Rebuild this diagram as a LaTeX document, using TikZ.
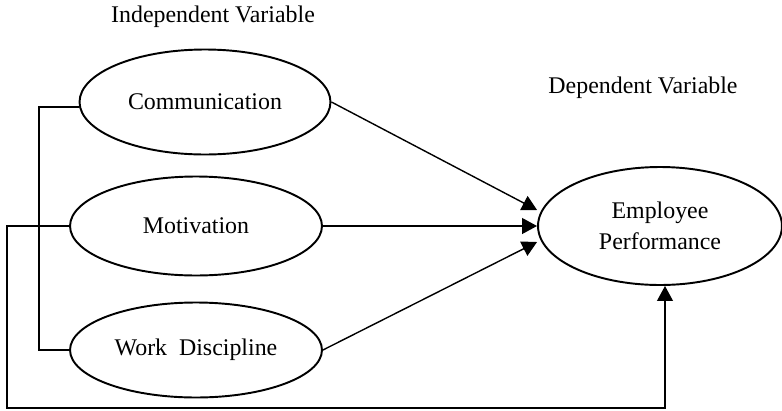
\documentclass[tikz,border=0pt]{standalone}
\usepackage{fontspec}
\setmainfont{Liberation Serif}
\usetikzlibrary{shapes,arrows.meta,positioning,calc}

\begin{document}
\begin{tikzpicture}[
    x=0.02cm, y=-0.02cm,
    font=\fontsize{13.6}{17.6}\selectfont,
    var/.style={ellipse, draw=black, line width=1.1pt, minimum width=5.04cm, minimum height=2cm, align=center, inner sep=0pt},
    line/.style={draw=black, line width=0.8pt},
    arrow/.style={line, -{Triangle[length=8.5pt,width=9pt]}}
]

\useasboundingbox (0,0) rectangle (782,410);

% Headings
\node (indep) at (213,17) {Independent Variable};
\node (dep) at (643,88) {Dependent Variable};

% Independent variables
\node[var, minimum width=5.02cm, minimum height=2.1cm] (comm) at (205,102) {Communication};
\node[var, minimum height=1.98cm] (mot) at (196,226) {Motivation};
\node[var, minimum height=1.9cm] (wd) at (196,350) {Work~~Discipline};

% Dependent variable
\node[var, minimum width=4.88cm, minimum height=2.36cm] (perf) at (660,226) {Employee\\Performance};

% Helper coordinates
\coordinate (brk) at (39,0);
\coordinate (loop) at (7,408);

% Arrows
\draw[arrow] (comm.east) -- ([yshift=0.32cm]perf.west);
\draw[arrow] (mot.east) -- (perf.west);
\draw[arrow] (wd.east) -- ([yshift=-0.32cm]perf.west);

% Brackets
\draw[line] ([yshift=-0.1cm]comm.west) -| (brk |- wd.west) -- (wd.west);
\draw[arrow] (mot.west) -| (loop) -| ([xshift=0.1cm]perf.south);

\end{tikzpicture}
\end{document}
